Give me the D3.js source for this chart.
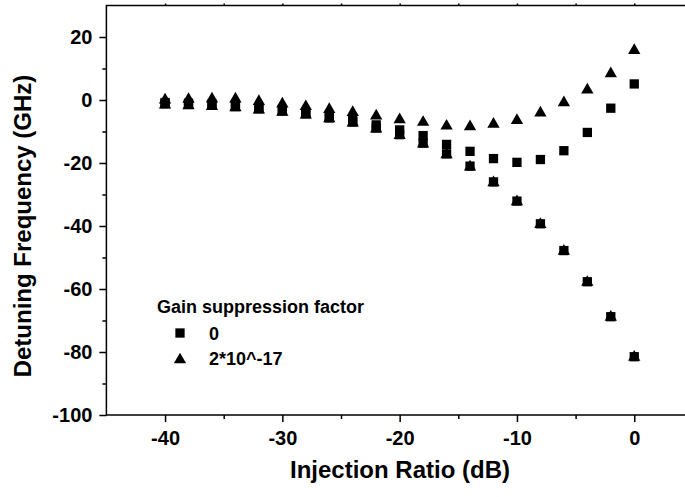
<!DOCTYPE html>
<html>
<head>
<meta charset="utf-8">
<script src="https://cdn.jsdelivr.net/npm/d3@7"></script>
<style>
  html, body { margin: 0; padding: 0; background: #fff; }
  svg { display: block; }
  text { font-family: "Liberation Sans", Arial, sans-serif; font-weight: bold; fill: #000; }
</style>
</head>
<body>
<svg id="chart" width="685" height="497"></svg>
<script>
// Injection ratio (dB) sampled every 2 dB
const injectionRatio = [-40, -38, -36, -34, -32, -30, -28, -26, -24, -22, -20,
                        -18, -16, -14, -12, -10, -8, -6, -4, -2, 0];

// Detuning frequency (GHz), gain suppression factor = 0
const detuningZeroUpper = [-0.8, -1.0, -1.3, -1.7, -2.4, -3.1, -4.0, -5.1, -6.3, -7.9, -9.5,
                           -11.3, -14.1, -16.3, -18.6, -19.8, -18.9, -16.1, -10.3, -2.6, 5.1];
const detuningZeroLower = [-1.2, -1.4, -1.7, -2.1, -2.8, -3.5, -4.4, -5.7, -7.0, -8.9, -11.0,
                           -13.7, -17.1, -21.0, -26.0, -32.1, -39.3, -47.8, -57.7, -68.8, -81.5];

// Detuning frequency (GHz), gain suppression factor = 2*10^-17
const detuningEpsUpper = [0.6, 0.8, 0.9, 0.9, 0.1, -0.7, -1.5, -2.4, -3.4, -4.5, -5.7,
                          -6.5, -7.7, -7.9, -7.1, -5.9, -3.5, -0.3, 3.8, 8.9, 16.3];
const detuningEpsLower = [-1.0, -1.2, -1.5, -1.9, -2.6, -3.3, -4.2, -5.4, -6.7, -8.6, -10.7,
                          -13.4, -16.8, -20.7, -25.7, -31.7, -38.9, -47.4, -57.3, -68.4, -81.1];

// Axis ticks
const xMajorTicks = [-40, -30, -20, -10, 0];
const xMinorTicks = [-35, -25, -15, -5];
const yMajorTicks = [-100, -80, -60, -40, -20, 0, 20];
const yMinorTicks = [-90, -70, -50, -30, -10, 10];

const legendTitle = "Gain suppression factor";
const legendLabels = ["0", "2*10^-17"];

const svg = d3.select("#chart");

const x = d3.scaleLinear().domain([-45, 5]).range([106.4, 692.9]);
const y = d3.scaleLinear().domain([-100, 30]).range([415, 5.5]);

const x0 = x.range()[0], x1 = x.range()[1];
const y0 = y.range()[0], y1 = y.range()[1];

// plain hyphen-minus labels
const plainFormat = d => String(d);

function styleAxis(g) {
  g.select(".domain").remove();
  g.selectAll(".tick line").attr("stroke", "#000").attr("stroke-width", 1.5);
  g.selectAll(".tick text").style("font-size", "20px");
}

// bottom axis
svg.append("g").attr("transform", `translate(0,${y0})`)
  .call(d3.axisBottom(x).tickValues(xMajorTicks).tickSize(7).tickPadding(9).tickFormat(plainFormat))
  .call(styleAxis);
svg.append("g").attr("transform", `translate(0,${y0})`)
  .call(d3.axisBottom(x).tickValues(xMinorTicks).tickSize(4).tickFormat(""))
  .call(styleAxis);

// left axis
svg.append("g").attr("transform", `translate(${x0},0)`)
  .call(d3.axisLeft(y).tickValues(yMajorTicks).tickSize(7).tickPadding(7).tickFormat(plainFormat))
  .call(styleAxis);
svg.append("g").attr("transform", `translate(${x0},0)`)
  .call(d3.axisLeft(y).tickValues(yMinorTicks).tickSize(4).tickFormat(""))
  .call(styleAxis);

// top axis (small outward ticks)
svg.append("g").attr("transform", `translate(0,${y1})`)
  .call(d3.axisTop(x).tickValues(xMajorTicks.concat(xMinorTicks)).tickSize(2).tickFormat(""))
  .call(styleAxis);

// frame
svg.append("rect")
  .attr("x", x0).attr("y", y1)
  .attr("width", x1 - x0).attr("height", y0 - y1)
  .attr("fill", "none").attr("stroke", "#000").attr("stroke-width", 1.5);

// marker shapes
const sq = 9.3;
const triW = 12.3, triH = 10.7;
const squarePath = `M${-sq / 2},${-sq / 2}h${sq}v${sq}h${-sq}Z`;
const trianglePath = `M0,${-triH / 2}L${triW / 2},${triH / 2}L${-triW / 2},${triH / 2}Z`;

function drawSeries(values, path) {
  svg.append("g").selectAll("path")
    .data(injectionRatio.map((r, i) => [r, values[i]]))
    .join("path")
    .attr("d", path)
    .attr("transform", d => `translate(${x(d[0])},${y(d[1])})`)
    .attr("fill", "#000");
}

drawSeries(detuningZeroUpper, squarePath);
drawSeries(detuningZeroLower, squarePath);
drawSeries(detuningEpsUpper, trianglePath);
drawSeries(detuningEpsLower, trianglePath);

// axis titles
svg.append("text")
  .attr("x", 400).attr("y", 478)
  .attr("text-anchor", "middle")
  .style("font-size", "24px")
  .text("Injection Ratio (dB)");

svg.append("text")
  .attr("transform", "translate(31,226) rotate(-90)")
  .attr("text-anchor", "middle")
  .style("font-size", "24px")
  .text("Detuning Frequency (GHz)");

// legend
const legend = svg.append("g");
legend.append("text")
  .attr("x", 157).attr("y", 313)
  .style("font-size", "18px")
  .text(legendTitle);

[squarePath, trianglePath].forEach((p, i) => {
  const cy = 333 + i * 25;
  legend.append("path").attr("d", p)
    .attr("transform", `translate(180,${cy})`).attr("fill", "#000");
  legend.append("text")
    .attr("x", 209).attr("y", cy + 6.5)
    .style("font-size", "18px")
    .text(legendLabels[i]);
});
</script>
</body>
</html>
